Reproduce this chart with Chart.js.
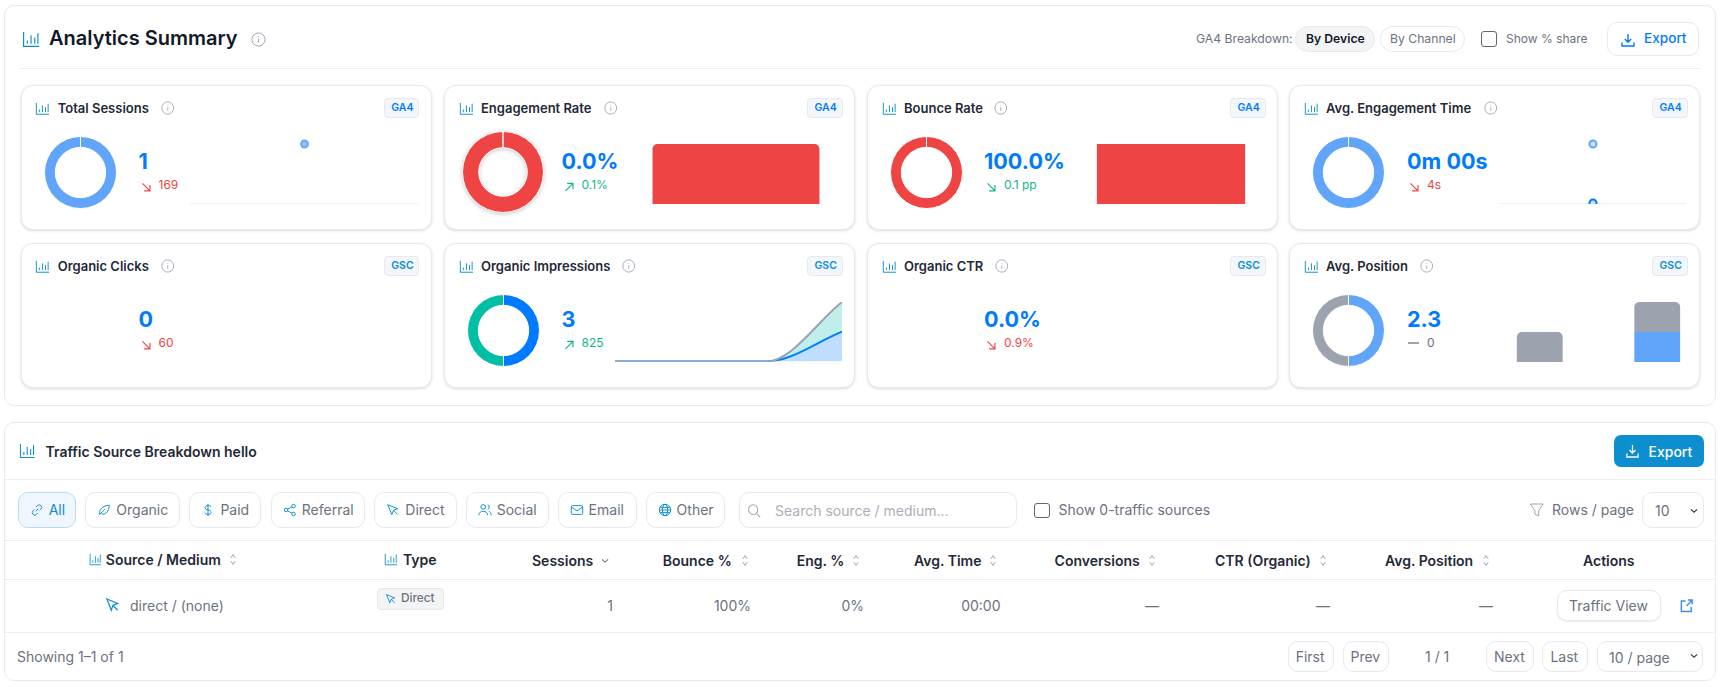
<!DOCTYPE html>
<html lang="en">
<head>
<meta charset="UTF-8">
<title>Analytics Summary</title>
<script src="https://cdn.jsdelivr.net/npm/chart.js"></script>
<style>
  body { margin: 0; background: #fff; font-family: Inter, sans-serif; color: #1f2937; overflow: hidden; }
  .a { position: absolute; box-sizing: border-box; }
  .t { position: absolute; white-space: nowrap; transform: translateY(-50%); line-height: 1; }
  .panel { border: 1px solid #e7e9ed; border-radius: 10px; background: #fff; }
  .card { border: 1px solid #e7e9ed; border-radius: 12px; background: #fff; box-shadow: 0 1px 3px rgba(0,0,0,.14); }
  .pill { border: 1px solid #e7e9ed; border-radius: 10px; background: #fff; }
  .line { background: #eceef1; height: 1px; }
  .check { border: 1px solid #5f6670; border-radius: 3px; background: #fff; }
  canvas { position: absolute; display: block; }
</style>
</head>
<body>
<script>
  // chart data
  const singleLabel = ['Current'];
  const deviceLabels = ['Desktop', 'Mobile'];
  const impressionLabels = ['P1', 'P2', 'P3', 'P4'];
  const sessionsRing = [1];
  const sessionsPoint = [1];
  const engagementRing = [1];
  const engagementBar = [1];
  const bounceRing = [1];
  const bounceBar = [1];
  const engTimeRing = [1];
  const engTimePointA = [1];
  const engTimePointB = [0];
  const impressionsRing = [1, 1];
  const impressionsTotal = [0, 0, 0, 2];
  const impressionsBlue = [0, 0, 0, 1];
  const positionRing = [1, 1];
  const positionGray = [1, 1];
  const positionBlue = [0, 1];

  const BLUE = '#007bff', SKY = '#60a5fa', RED = '#ef4444', TEAL = '#00bfa5', GRAY = '#9ca3af';
  const GREEN = '#10b981', ICON = '#0d8fcf', MUTED = '#6b7280';

  function box(x1, y1, x2, y2, cls, css) {
    const d = document.createElement('div');
    d.className = 'a ' + (cls || '');
    d.style.cssText = `left:${x1}px;top:${y1}px;width:${x2 - x1}px;height:${y2 - y1}px;` + (css || '');
    document.body.appendChild(d);
    return d;
  }
  function txt(x, y, text, size, weight, color, right) {
    const d = document.createElement('div');
    d.className = 't';
    d.textContent = text;
    d.style.cssText = `${right ? 'right:' + (1736 - x) : 'left:' + x}px;top:${y}px;font-size:${size}px;font-weight:${weight};color:${color};`;
    document.body.appendChild(d);
    return d;
  }
  const ICONS = {
    bars: '<path d="M1.5 1v13.5H16M5 12V9M8.5 12V4M12 12V6M15 12V2"/>',
    info: '<circle cx="8" cy="8" r="7"/><path d="M8 7.2v4M8 4.6v.8"/>',
    down: '<path d="M8 2v8M4.8 7L8 10.2 11.2 7M2 10.5V14h12v-3.5"/>',
    search: '<circle cx="7" cy="7" r="5.2"/><path d="M11 11l4 4"/>',
    filter: '<path d="M1.5 2h13L10 8.5V14l-4-2V8.5z"/>',
    link: '<path d="M6.5 9.5l3-3M7 4.5l1.5-1.5a2.8 2.8 0 014 4L11 8.5M9 11.5L7.5 13a2.8 2.8 0 01-4-4L5 7.5"/>',
    leaf: '<path d="M3 13C2 7 7 3 14 2.5 14 9 10 14 5 12.5M3 13l6-6"/>',
    dollar: '<path d="M8 1v14M11.5 4.5C11 3.3 9.8 3 8 3 6 3 4.7 3.8 4.7 5.4 4.7 9 11.6 7 11.6 10.8 11.6 12.4 10 13 8 13 6 13 4.8 12.3 4.4 11"/>',
    share: '<circle cx="12" cy="3.5" r="2"/><circle cx="3.5" cy="8" r="2"/><circle cx="12" cy="12.5" r="2"/><path d="M5.3 7l5-2.6M5.3 9l5 2.6"/>',
    cursor: '<path d="M2 2l11.5 4.5-5 1.8-1.8 5zM8.5 8.3l5 5"/>',
    people: '<circle cx="6" cy="4.5" r="2.7"/><path d="M1 14c0-3 2-4.5 5-4.5s5 1.5 5 4.5M11 2a2.6 2.6 0 010 5M12.5 9.5c1.5.5 2.5 2 2.5 4.5"/>',
    mail: '<rect x="1.5" y="3" width="13" height="10" rx="1.5"/><path d="M1.5 4.5L8 9l6.5-4.5"/>',
    globe: '<circle cx="8" cy="8" r="6.5"/><ellipse cx="8" cy="8" rx="3" ry="6.5"/><path d="M1.5 8h13M2.5 5h11M2.5 11h11"/>',
    ext: '<path d="M7 3H2.5v10.5H13V9M8 8l6-6M9.5 2H14v4.5"/>',
    sdown: '<path d="M3 4l9 9M12 6v7H5"/>',
    sup: '<path d="M3 13l9-9M5 4h7v7"/>',
    chev: '<path d="M3 6l5 5 5-5"/>',
    sort: '<path d="M4.5 6L8 2l3.5 4M4.5 10L8 14l3.5-4"/>'
  };
  function icon(x1, y1, x2, y2, name, color, sw) {
    const d = box(x1, y1, x2, y2);
    d.innerHTML = `<svg width="100%" height="100%" viewBox="0 0 16 16" preserveAspectRatio="none" fill="none" stroke="${color}" stroke-width="${sw || 1.2}" style="display:block">${ICONS[name]}</svg>`;
  }
  function canvas(x1, y1, x2, y2, css) {
    const c = document.createElement('canvas');
    c.width = x2 - x1;
    c.height = y2 - y1;
    c.style.cssText = `left:${x1}px;top:${y1}px;width:${x2 - x1}px;height:${y2 - y1}px;` + (css || '');
    document.body.appendChild(c);
    return c;
  }
  const base = { responsive: false, animation: false, plugins: { legend: { display: false }, tooltip: { enabled: false } } };

  function ring(cx, cy, r, cutout, labels, values, colors, css) {
    const s = r + 1;
    new Chart(canvas(cx - s, cy - s, cx + s, cy + s, css), {
      type: 'doughnut',
      data: { labels: labels, datasets: [{ data: values, backgroundColor: colors, borderColor: '#fff', borderWidth: 1, hoverOffset: 0 }] },
      options: { ...base, cutout: cutout }
    });
  }
  function pointChart(x1, x2, sets) {
    new Chart(canvas(x1, 139, x2, 204), {
      type: 'line',
      data: { labels: singleLabel, datasets: sets.map(s => ({ data: s.data, showLine: false, pointRadius: 3.5, pointBorderWidth: 2, pointBackgroundColor: s.fill, pointBorderColor: s.stroke, clip: false })) },
      options: { ...base, layout: { autoPadding: false, padding: { top: 5, bottom: 1 } }, scales: {
        x: { offset: true, ticks: { display: false }, grid: { display: false, drawTicks: false }, border: { color: '#eff0f2' } },
        y: { display: false, min: 0, max: 1 }
      } }
    });
  }
  function barChart(x1, x2, values, radius) {
    new Chart(canvas(x1, 139, x2, 204), {
      type: 'bar',
      data: { labels: singleLabel, datasets: [{ data: values, backgroundColor: RED, categoryPercentage: 1, barPercentage: 0.78,
        borderSkipped: false, borderRadius: { topLeft: radius, topRight: radius, bottomLeft: 0, bottomRight: 0 } }] },
      options: { ...base, layout: { padding: { top: 5 } }, scales: { x: { display: false }, y: { display: false, min: 0, max: 1 } } }
    });
  }

  function card(x1, y1, title, infoX, badge, badgeColor) {
    box(x1, y1, x1 + 411, y1 + 145, 'card');
    const dy = y1 - 85;
    icon(x1 + 14.5, 101.5 + dy, x1 + 28.5, 115 + dy, 'bars', ICON, 1.1);
    txt(x1 + 37, 108 + dy, title, 13, 600, '#1f2937');
    icon(infoX, 101 + dy, infoX + 13.5, 115 + dy, 'info', '#9ca3af', 1);
    box(x1 + 363, 98 + dy, x1 + 398.5, 117.7 + dy, '', 'background:#f3f6fb;border:1px solid #e7e9ed;border-radius:4px;');
    txt(x1 + 370.5, 108 + dy, badge, 10.5, 600, badgeColor);
  }
  function metric(x, y, value, arrow, delta, color) {
    txt(x, y + 0.5, value, 21.6, 700, BLUE);
    if (arrow) icon(x + 1, y + 18.5, x + 14.3, y + 31.8, arrow, color, 1.4);
    else box(x + 1, y + 23, x + 12, y + 24.5, '', 'background:' + GRAY);
    txt(x + 20, y + 24, delta, 12, 400, color);
  }

  // summary panel
  box(4, 5, 1716, 406, 'panel');
  icon(22, 31, 39, 48, 'bars', ICON, 1.1);
  txt(49, 38, 'Analytics Summary', 20, 600, '#111827');
  icon(251, 31.5, 266, 46.5, 'info', '#9ca3af', 1);
  txt(1196, 39, 'GA4 Breakdown:', 12.2, 400, MUTED);
  box(1295, 26, 1375, 52, 'pill', 'background:#f3f4f6;border-radius:13px;');
  txt(1306, 39, 'By Device', 12.2, 600, '#111827');
  box(1379.5, 26, 1464.5, 52, 'pill', 'border-radius:13px;');
  txt(1390, 39, 'By Channel', 12.2, 400, MUTED);
  box(1481, 31, 1497, 47, 'check');
  txt(1506, 39, 'Show % share', 12, 400, MUTED);
  box(1607, 22, 1699, 56, 'pill');
  icon(1620, 31.5, 1636, 47.5, 'down', BLUE, 1.4);
  txt(1644, 39, 'Export', 13.6, 500, BLUE);
  box(21, 68, 1699, 69, 'line');

  card(20.7, 85.3, 'Total Sessions', 160.7, 'GA4', BLUE);
  card(444, 85.3, 'Engagement Rate', 603.5, 'GA4', BLUE);
  card(867, 85.3, 'Bounce Rate', 994, 'GA4', BLUE);
  card(1289, 85.3, 'Avg. Engagement Time', 1484, 'GA4', BLUE);
  card(20.7, 243.3, 'Organic Clicks', 160.7, 'GSC', ICON);
  card(444, 243.3, 'Organic Impressions', 622, 'GSC', ICON);
  card(867, 243.3, 'Organic CTR', 995, 'GSC', ICON);
  card(1289, 243.3, 'Avg. Position', 1419.5, 'GSC', ICON);

  ring(80.3, 172.3, 35.6, '70%', singleLabel, sessionsRing, [SKY]);
  metric(138.5, 161, '1', 'sdown', '169', RED);
  pointChart(190, 419, [{ data: sessionsPoint, fill: 'rgba(96,165,250,.7)', stroke: 'rgba(96,165,250,.9)' }]);

  ring(503, 172, 40, '60%', singleLabel, engagementRing, [RED], 'filter:drop-shadow(0 1px 2px rgba(0,0,0,.22));');
  metric(561.5, 161, '0.0%', 'sup', '0.1%', GREEN);
  barChart(629, 843, engagementBar, 5);

  ring(926.3, 172.3, 35.6, '70%', singleLabel, bounceRing, [RED]);
  metric(984, 161, '100.0%', 'sdown', '0.1 pp', GREEN);
  barChart(1076, 1266, bounceBar, 0);

  ring(1348.3, 172.3, 35.6, '70%', singleLabel, engTimeRing, [SKY]);
  metric(1407, 161, '0m 00s', 'sdown', '4s', RED);
  pointChart(1500, 1686, [{ data: engTimePointA, fill: '#cfe3fd', stroke: SKY }, { data: engTimePointB, fill: '#cfe3fd', stroke: BLUE }]);

  metric(138.5, 319.3, '0', 'sdown', '60', RED);
  metric(984, 319.3, '0.0%', 'sdown', '0.9%', RED);

  ring(503.5, 330.3, 35.6, '70%', deviceLabels, impressionsRing, [BLUE, TEAL]);
  metric(561.5, 319.3, '3', 'sup', '825', GREEN);
  new Chart(canvas(615, 296, 842, 363), {
    type: 'line',
    data: { labels: impressionLabels, datasets: [
      { data: impressionsTotal, borderColor: GRAY, backgroundColor: 'rgba(0,191,165,.25)', borderWidth: 2, pointRadius: 0, cubicInterpolationMode: 'monotone', fill: '+1' },
      { data: impressionsBlue, borderColor: BLUE, backgroundColor: 'rgba(0,123,255,.25)', borderWidth: 2, pointRadius: 0, cubicInterpolationMode: 'monotone', fill: 'origin' }
    ] },
    options: { ...base, layout: { autoPadding: false, padding: { top: 6, bottom: 1.5 } }, scales: { x: { display: false }, y: { display: false, min: 0, max: 2 } } }
  });

  ring(1348.3, 330.3, 35.6, '70%', deviceLabels, positionRing, [SKY, GRAY]);
  metric(1407, 319.3, '2.3', null, '0', MUTED);
  new Chart(canvas(1481, 296, 1716, 362), {
    type: 'bar',
    data: { labels: deviceLabels, datasets: [
      { data: positionBlue, backgroundColor: SKY, categoryPercentage: 1, barPercentage: 0.39, stack: 'a' },
      { data: positionGray, backgroundColor: GRAY, categoryPercentage: 1, barPercentage: 0.39, stack: 'a', borderSkipped: false, borderRadius: { topLeft: 5, topRight: 5, bottomLeft: 0, bottomRight: 0 } }
    ] },
    options: { ...base, layout: { padding: { top: 6 } }, scales: { x: { display: false, stacked: true }, y: { display: false, stacked: true, min: 0, max: 2 } } }
  });

  // traffic source panel
  box(4, 422, 1716, 681, 'panel');
  icon(19, 443, 34.5, 459, 'bars', ICON, 1.1);
  txt(45.5, 451.5, 'Traffic Source Breakdown hello', 14, 600, '#1f2937');
  box(1614, 435, 1703.5, 467, '', 'background:#0d8fcf;border-radius:7px;');
  icon(1625, 443, 1640, 459, 'down', '#fff', 1.3);
  txt(1648.5, 451.5, 'Export', 14, 500, '#fff');
  box(5, 479, 1716, 480, 'line');

  const filterNames = ['All', 'Organic', 'Paid', 'Referral', 'Direct', 'Social', 'Email', 'Other'];
  const filterIcons = ['link', 'leaf', 'dollar', 'share', 'cursor', 'people', 'mail', 'globe'];
  const filterEdges = [[17.7, 76.4], [85.3, 180.5], [189.4, 261.4], [270.8, 365.4], [374.3, 456.8], [465.7, 548.7], [557.6, 636.8], [645.6, 725.3]];
  filterNames.forEach((n, i) => {
    const [l, r] = filterEdges[i];
    box(l, 492.3, r, 527.7, 'pill', i === 0 ? 'background:#eff6fd;border-color:#bcdcf5;' : '');
    icon(l + 12, 503, l + 26, 517, filterIcons[i], ICON, 1.1);
    txt(l + 31, 510, n, 14, 400, i === 0 ? ICON : MUTED);
  });
  box(738.6, 492.3, 1017.5, 527.7, 'pill');
  icon(747, 503, 761, 518, 'search', '#9ca3af', 1.1);
  txt(775, 511, 'Search source / medium...', 14, 400, '#a9afb8');
  box(1034, 502.7, 1050, 518.3, 'check');
  txt(1058.5, 510, 'Show 0-traffic sources', 14, 400, MUTED);
  icon(1528.5, 502, 1544, 518, 'filter', '#9ca3af', 1);
  txt(1552, 510, 'Rows / page', 14, 400, MUTED);
  box(1642, 492.3, 1703.5, 527.7, 'pill');
  txt(1655, 511, '10', 14, 400, MUTED);
  icon(1689, 506, 1699, 515, 'chev', '#374151', 2);
  box(5, 540, 1716, 541, 'line');

  // table header
  icon(88.5, 553, 100.5, 566, 'bars', ICON, 1.1);
  txt(105.8, 559.5, 'Source / Medium', 14, 600, '#1f2937');
  icon(228, 553, 238, 566, 'sort', '#8f96a3', 1.2);
  icon(384, 553, 397, 566, 'bars', ICON, 1.1);
  txt(403, 559.5, 'Type', 14, 600, '#1f2937');
  const headNames = ['Sessions', 'Bounce %', 'Eng. %', 'Avg. Time', 'Conversions', 'CTR (Organic)', 'Avg. Position'];
  const headX = [532, 662.8, 796.8, 914, 1054.6, 1215, 1385];
  const sortX = [600, 740, 851, 988, 1146.5, 1317.6, 1481];
  headNames.forEach((n, i) => {
    txt(headX[i], 560.5, n, 14, 600, '#1f2937');
    if (i === 0) icon(sortX[i], 556, sortX[i] + 10, 565, 'chev', '#374151', 1.6);
    else icon(sortX[i], 554, sortX[i] + 10, 567, 'sort', '#8f96a3', 1.2);
  });
  txt(1583, 560.5, 'Actions', 14, 600, '#1f2937');
  box(5, 579, 1716, 580, 'line');

  // table row
  icon(105, 597, 120, 613, 'cursor', ICON, 1.3);
  txt(130, 606, 'direct / (none)', 14, 400, MUTED);
  box(376.5, 588.3, 444, 609.7, '', 'background:#f3f4f6;border:1px solid #e7e9ed;border-radius:4px;');
  icon(385, 593, 396.5, 605, 'cursor', ICON, 1.2);
  txt(401, 598.5, 'Direct', 11.8, 500, MUTED);
  txt(613, 606, '1', 14, 400, MUTED, true);
  txt(751, 606, '100%', 14, 400, MUTED, true);
  txt(864, 606, '0%', 14, 400, MUTED, true);
  txt(1000.5, 606, '00:00', 14, 400, MUTED, true);
  [1145, 1316, 1479].forEach(x => txt(x, 606, '—', 14, 400, MUTED));
  box(1556.8, 590, 1661.5, 621, 'pill', 'box-shadow:0 1px 2px rgba(0,0,0,.08);');
  txt(1569, 606, 'Traffic View', 14, 400, MUTED);
  icon(1679, 598, 1694, 614, 'ext', '#3b8fe8', 1.5);
  box(5, 632, 1716, 633, 'line');

  // footer
  txt(17, 657, 'Showing 1–1 of 1', 14, 400, MUTED);
  const pageNames = ['First', 'Prev', 'Next', 'Last'];
  const pageEdges = [[1287.7, 1333.7], [1342.5, 1388.5], [1486, 1533.6], [1542.4, 1587.8]];
  pageNames.forEach((n, i) => {
    box(pageEdges[i][0], 641.3, pageEdges[i][1], 672.3, 'pill');
    txt(pageEdges[i][0] + 8, 657, n, 14, 400, MUTED);
  });
  txt(1425, 657, '1 / 1', 14, 400, MUTED);
  box(1596.7, 641.3, 1703.5, 672.3, 'pill');
  txt(1609, 658, '10 / page', 14, 400, MUTED);
  icon(1689, 651, 1699, 660, 'chev', '#374151', 2);
</script>
</body>
</html>
